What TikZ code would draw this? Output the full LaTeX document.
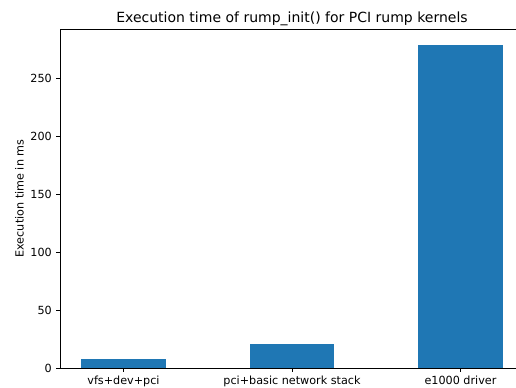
\documentclass[tikz,border=0pt]{standalone}
\usepackage{fontspec}
\setmainfont{DejaVu Sans}
\definecolor{barblue}{HTML}{1F77B4}
\tikzset{
  spine/.style={line width=0.9bp, black, line cap=rect},
  tickline/.style={line width=0.9bp, black},
  bar/.style={fill=barblue, draw=none},
  ticklab/.style={inner sep=0pt, font=\fontsize{11.2bp}{13bp}\selectfont},
  titlelab/.style={inner sep=0pt, font=\fontsize{14bp}{16bp}\selectfont}
}
\begin{document}
\begin{tikzpicture}[x=1bp,y=-1bp]
\useasboundingbox[fill=white] (0,0) rectangle (516,387);
\clip (0,0) rectangle (516,387);
% bars
\fill[bar] (81.25,368) rectangle (165.75,{368-1.16*7.8});
\fill[bar] (249.75,368) rectangle (334.25,{368-1.16*20.7});
\fill[bar] (418.25,368) rectangle (502.75,{368-1.16*278.3});
% spines
\coordinate (tl) at (60,29);
\coordinate (bl) at (60,368);
\coordinate (tr) at (530,29);
\coordinate (br) at (530,368);
\draw[spine] (tl) -- (bl) -- (br);
\draw[spine] (tl) -- (tr);
% y ticks
\foreach \v in {0,50,100,150,200,250}{
  \draw[tickline] (60,{368-1.16*\v}) -- (56.1,{368-1.16*\v});
  \node[ticklab, anchor=base east] (y\v) at (52,{368-1.16*\v+4}) {\v};
}
% x ticks
\foreach \c/\lab/\nm in {123.5/vfs+dev+pci/a, 292/pci+basic network stack/b, 460.5/e1000 driver/c}{
  \draw[tickline] (\c,368) -- (\c,371.9);
  \node[ticklab, anchor=base] (x\nm) at (\c,384.3) {\lab};
}
% labels
\node[ticklab, rotate=90, anchor=base] (ylab) at (23.5,198.5) {Execution time in ms};
\node[titlelab, anchor=base] (title) at (292,22.3) {Execution time of rump\_init() for PCI rump kernels};
\end{tikzpicture}
\end{document}
